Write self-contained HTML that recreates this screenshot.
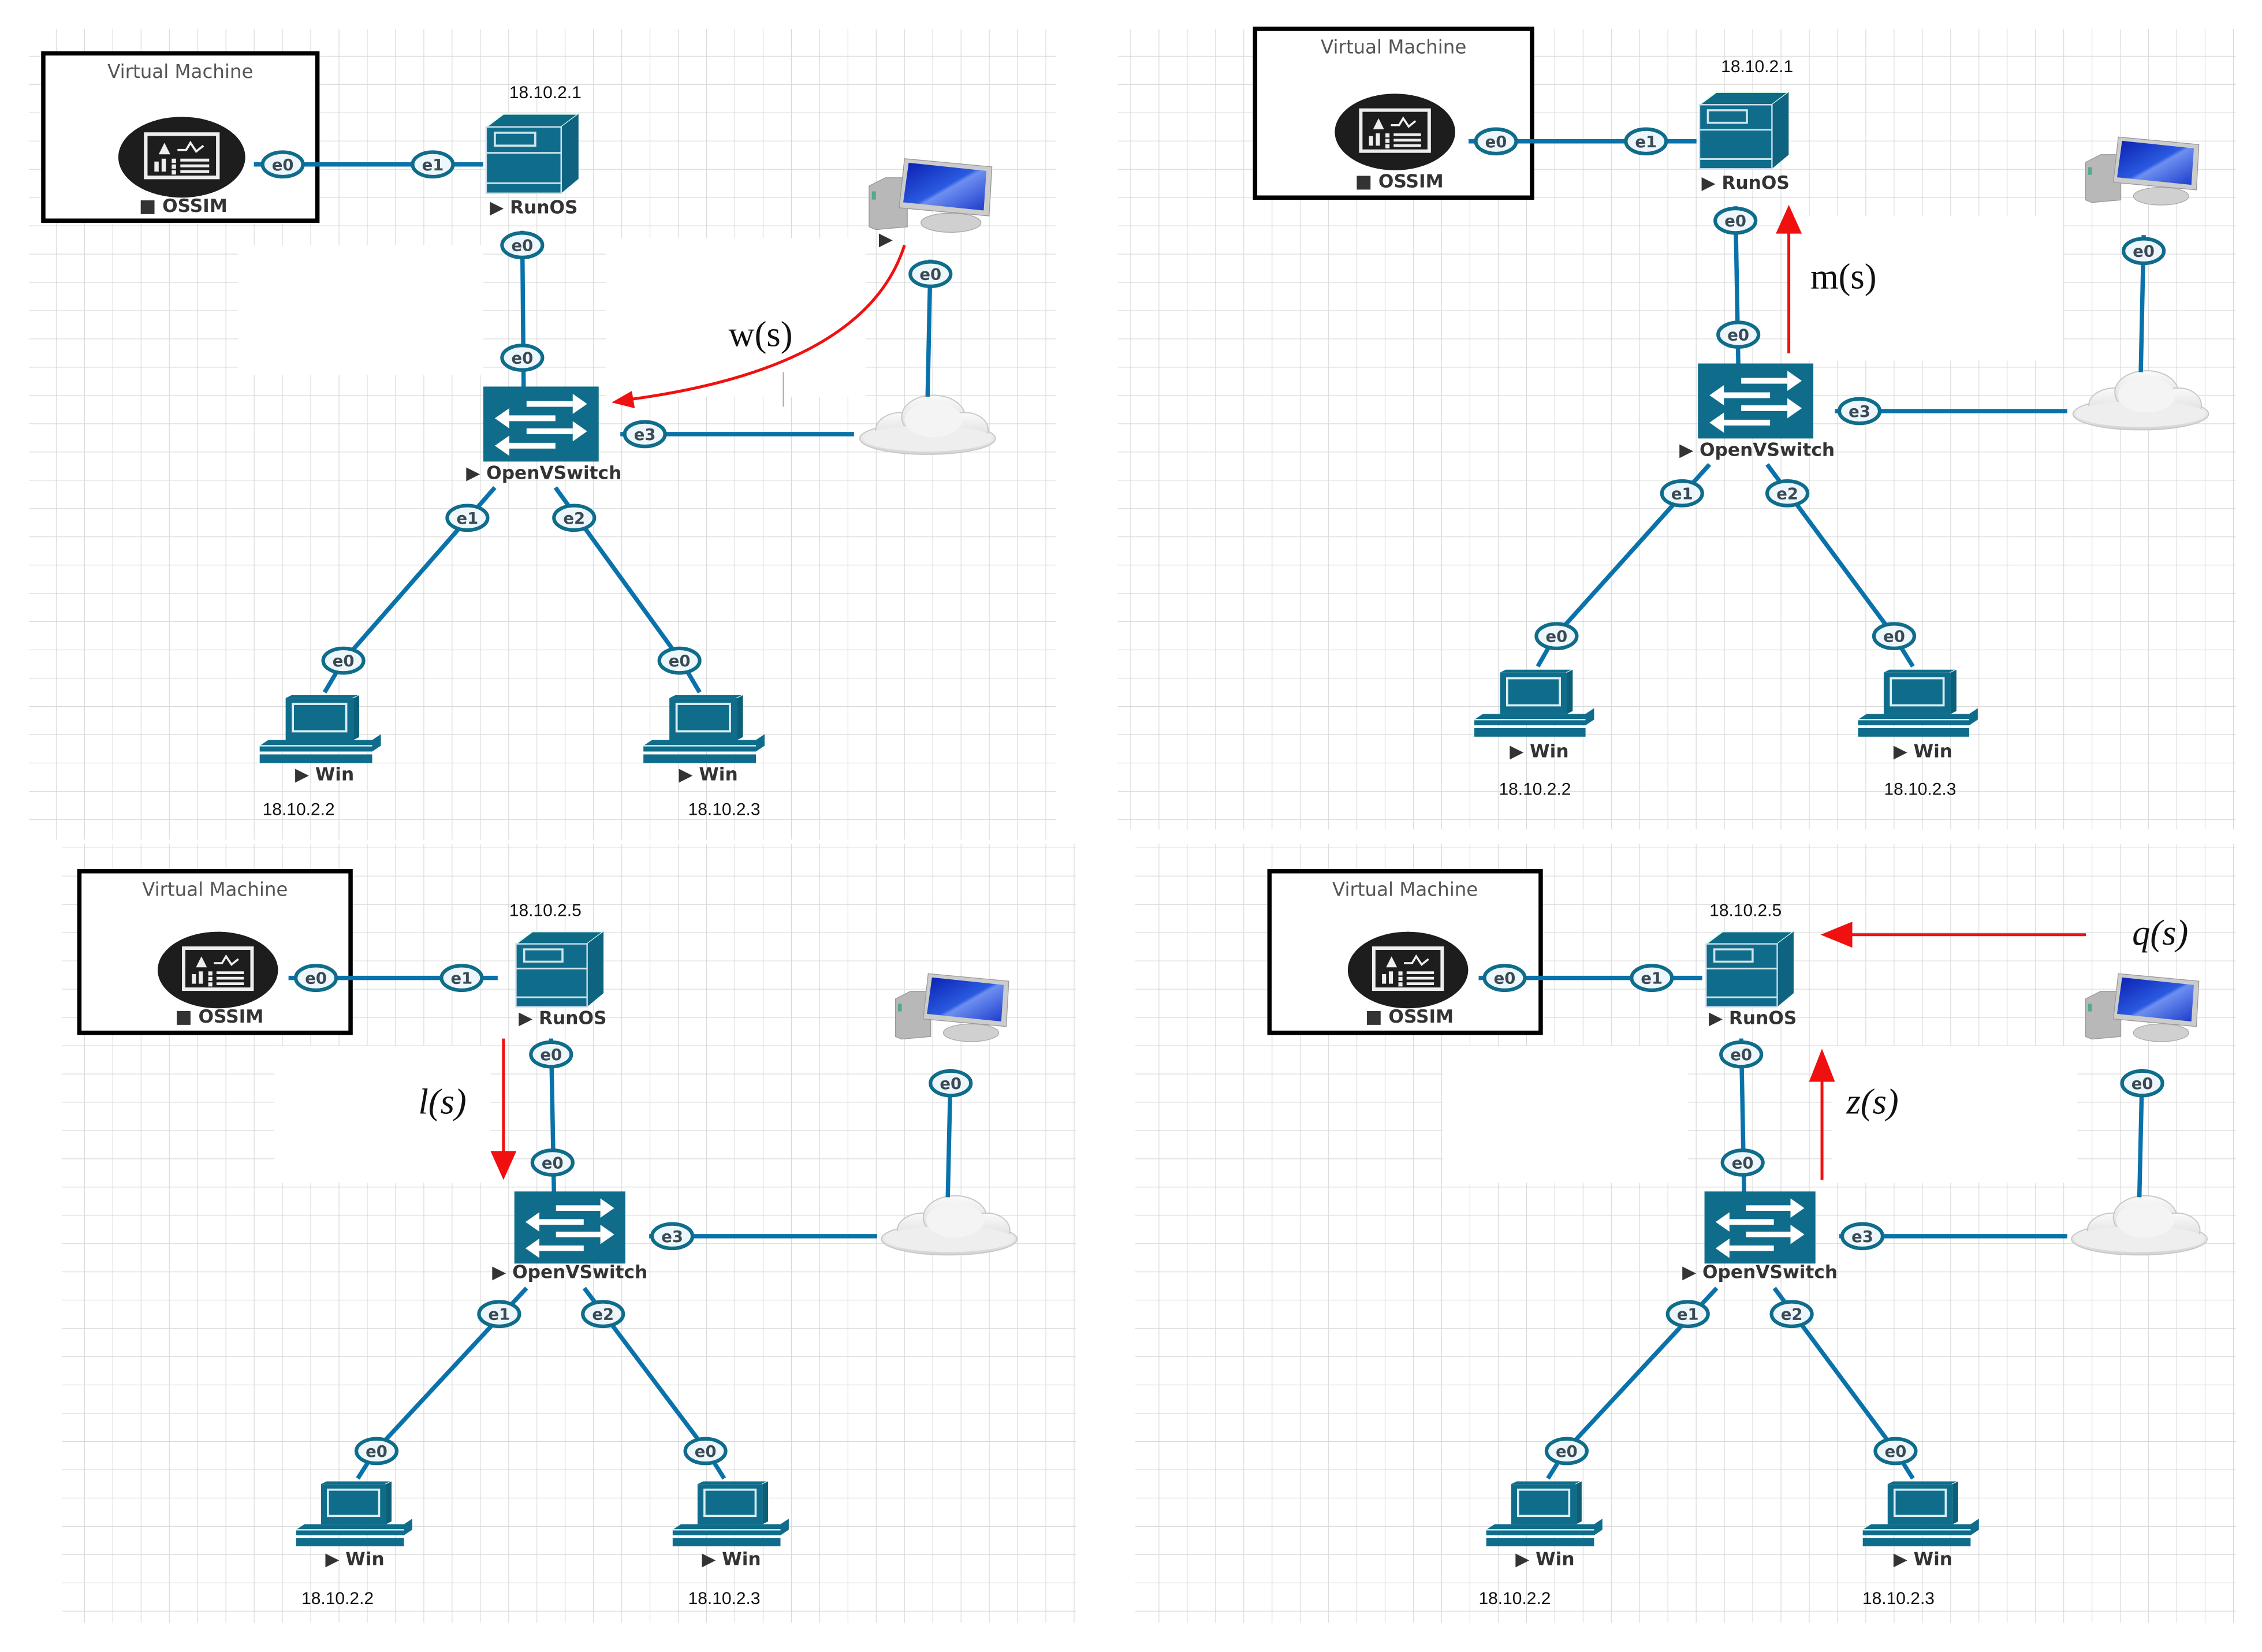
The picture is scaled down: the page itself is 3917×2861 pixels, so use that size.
<!DOCTYPE html>
<html><head><meta charset="utf-8"><style>
html,body{margin:0;padding:0;background:#fff;}
svg{display:block;}
.ip{font-family:"Liberation Sans",sans-serif;font-size:12px;fill:#111;text-anchor:middle;}
.lb{font-family:"DejaVu Sans","Liberation Sans",sans-serif;font-size:12.5px;fill:#333;text-anchor:middle;font-weight:bold;}
.vm{font-family:"DejaVu Sans","Liberation Sans",sans-serif;font-size:13px;fill:#555;text-anchor:middle;}
.ifl{font-family:"DejaVu Sans","Liberation Sans",sans-serif;font-size:11px;font-weight:bold;fill:#3a4a55;text-anchor:middle;}
.ln{stroke:#0a72aa;stroke-width:3;fill:none;}
.red{stroke:#f01010;stroke-width:2;fill:none;}
.mt{font-family:"Liberation Serif",serif;font-size:25px;fill:#111;}
.mi{font-family:"Liberation Serif",serif;font-size:25px;font-style:italic;fill:#111;}
</style></head><body>
<svg width="3917" height="2861" viewBox="0 0 1568 1145.3" xmlns="http://www.w3.org/2000/svg">
<defs>
<pattern id="g" width="19.6" height="19.6" patternUnits="userSpaceOnUse">
<path d="M19.6 0V19.6H0" fill="none" stroke="#d8d8d8" stroke-width="0.9"/>
</pattern>
<symbol id="srv" viewBox="0 0 64 58" overflow="visible">
<polygon points="0,12 12,3 64,3 52,12" fill="#0f6a86" stroke="#dfe" stroke-width="1"/>
<polygon points="52,12 64,3 64,48 52,58" fill="#0e6480"/>
<rect x="0" y="12" width="52" height="46" fill="#0f6d8b" stroke="#cde" stroke-width="1"/>
<rect x="6" y="16" width="28" height="9" fill="none" stroke="#cfe4ea" stroke-width="1.5"/>
<line x1="0" y1="30" x2="52" y2="30" stroke="#cfe4ea" stroke-width="1.2"/>
<line x1="0" y1="51" x2="52" y2="51" stroke="#cfe4ea" stroke-width="1.2"/>
</symbol>
<symbol id="sw" viewBox="0 0 80 52" overflow="visible">
<rect width="80" height="52" fill="#0f6d8b"/>
<g fill="#fff" stroke="#fff" stroke-width="4">
<line x1="30" y1="12" x2="62" y2="12"/><line x1="18" y1="22" x2="50" y2="22"/>
<line x1="30" y1="31" x2="62" y2="31"/><line x1="18" y1="41" x2="50" y2="41"/>
</g>
<g fill="#fff"><polygon points="62,5 72,12 62,19"/><polygon points="18,15 8,22 18,29"/>
<polygon points="62,24 72,31 62,38"/><polygon points="18,34 8,41 18,48"/></g>
</symbol>
<symbol id="pc" viewBox="0 0 85 48" overflow="visible">
<polygon points="18,2 22,0 68,0 64,2" fill="#0f6d8b"/>
<rect x="18" y="2" width="47" height="29" fill="#0f6d8b"/>
<rect x="23" y="6" width="37" height="19" fill="#0f6d8b" stroke="#d8eef4" stroke-width="1.5"/>
<polygon points="65,2 69,0 69,29 65,31" fill="#0c5f78"/>
<polygon points="6,31 78,31 84,27 84,35 78,39 0,39 0,35" fill="#0f6d8b"/>
<line x1="0" y1="35" x2="78" y2="35" stroke="#d8eef4" stroke-width="1"/>
<rect x="0" y="41" width="78" height="6" fill="#0f6d8b"/>
</symbol>
<linearGradient id="cg" x1="0" y1="0" x2="0" y2="1"><stop offset="0" stop-color="#fafafa"/><stop offset="1" stop-color="#d4d4d4"/></linearGradient>
<symbol id="cl" viewBox="0 0 96 42" overflow="visible">
<g fill="url(#cg)" stroke="#c8c8c8" stroke-width="0.8">
<ellipse cx="48" cy="30" rx="47" ry="11"/>
<ellipse cx="30" cy="24" rx="18" ry="12"/>
<ellipse cx="52" cy="15" rx="22" ry="15"/>
<ellipse cx="74" cy="24" rx="16" ry="12"/>
</g>
<ellipse cx="48" cy="30" rx="45" ry="9" fill="#eee"/>
<ellipse cx="52" cy="17" rx="20" ry="12" fill="#f4f4f4"/>
</symbol>
<linearGradient id="bl" x1="0" y1="0" x2="1" y2="1"><stop offset="0" stop-color="#0a1fb0"/><stop offset="0.5" stop-color="#2a5ae0"/><stop offset="0.55" stop-color="#6d8ff0"/><stop offset="1" stop-color="#1a3acb"/></linearGradient>
<symbol id="mon" viewBox="0 0 90 55" overflow="visible">
<polygon points="0,20 12,14 28,14 28,50 5,52 0,50" fill="#b8b8b8" stroke="#999" stroke-width="0.6"/>
<rect x="2" y="24" width="3" height="6" fill="#5a8"/>
<ellipse cx="60" cy="47" rx="22" ry="7" fill="#d0d0d0" stroke="#aaa" stroke-width="0.6"/>
<polygon points="26,0 90,6 88,42 22,36" fill="#ccc" stroke="#999" stroke-width="0.6"/>
<polygon points="29,3 86,9 84,38 25,32" fill="url(#bl)"/>
</symbol>
<symbol id="os" viewBox="0 0 90 58" overflow="visible">
<ellipse cx="45" cy="29" rx="44" ry="28" fill="#1d1d1d"/>
<rect x="20" y="13" width="50" height="30" fill="none" stroke="#eee" stroke-width="2.5"/>
<polygon points="29,27 33,19 37,27" fill="#eee"/>
<polyline points="42,24 48,24 51,19 55,25 60,21" fill="none" stroke="#eee" stroke-width="1.5"/>
<rect x="26" y="32" width="3" height="7" fill="#eee"/><rect x="31" y="30" width="3" height="9" fill="#eee"/>
<g stroke="#eee" stroke-width="2"><line x1="44" y1="31" x2="64" y2="31"/><line x1="44" y1="35" x2="64" y2="35"/><line x1="44" y1="39" x2="64" y2="39"/></g>
<rect x="38" y="30" width="3" height="3" fill="#eee"/><rect x="38" y="34" width="3" height="3" fill="#eee"/><rect x="38" y="38" width="3" height="3" fill="#eee"/>
</symbol>
<symbol id="if" viewBox="-15 -9 30 18" overflow="visible">
<ellipse cx="0" cy="0" rx="14" ry="8.5" fill="#edf6fa" stroke="#0f6c8a" stroke-width="2.5"/>
</symbol>
</defs>

<rect width="1568" height="1146" fill="#fff"/>
<rect x="20" y="20" width="712" height="562" fill="url(#g)"/>
<rect x="775" y="20" width="775" height="555" fill="url(#g)"/>
<rect x="43" y="585" width="703" height="540" fill="url(#g)"/>
<rect x="787" y="585" width="763" height="540" fill="url(#g)"/>
<rect x="165" y="170" width="170" height="90" fill="#fff"/>
<rect x="420" y="165" width="180" height="110" fill="#fff"/>
<rect x="1240" y="150" width="190" height="100" fill="#fff"/>
<rect x="190" y="725" width="150" height="95" fill="#fff"/>
<rect x="1000" y="725" width="170" height="95" fill="#fff"/>
<rect x="1270" y="725" width="170" height="95" fill="#fff"/>

<g>
<rect x="30" y="37" width="190" height="116" fill="#fff" stroke="#000" stroke-width="3"/>
<text x="125" y="54" class="vm">Virtual Machine</text>
<use href="#os" x="81" y="80" width="90" height="58"/>
<text x="127" y="147" class="lb">■ OSSIM</text>
<line x1="176" y1="114" x2="335" y2="114" class="ln"/>
<use href="#if" x="181" y="105" width="30" height="18"/><text x="196" y="118" class="ifl">e0</text>
<use href="#if" x="285" y="105" width="30" height="18"/><text x="300" y="118" class="ifl">e1</text>
<use href="#srv" x="337" y="76" width="64" height="58"/>
<text x="378" y="68" class="ip">18.10.2.1</text>
<text x="370" y="148" class="lb">▶ RunOS</text>
<line x1="362" y1="160" x2="363" y2="270" class="ln"/>
<use href="#if" x="347" y="161" width="30" height="18"/><text x="362" y="174" class="ifl">e0</text>
<use href="#if" x="347" y="239" width="30" height="18"/><text x="362" y="252" class="ifl">e0</text>
<use href="#sw" x="335" y="268" width="80" height="52"/>
<text x="377" y="332" class="lb">▶ OpenVSwitch</text>
<line x1="430" y1="301" x2="592" y2="301" class="ln"/>
<use href="#if" x="432" y="292" width="30" height="18"/><text x="447" y="305" class="ifl">e3</text>
<use href="#cl" x="595" y="274" width="96" height="42"/>
<use href="#mon" x="600" y="110" width="90" height="52"/>
<text x="614" y="170" class="lb">▶</text>
<line x1="645" y1="180" x2="643" y2="275" class="ln"/>
<use href="#if" x="630" y="181" width="30" height="18"/><text x="645" y="194" class="ifl">e0</text>
<line x1="343" y1="338" x2="238" y2="458" class="ln"/>
<line x1="385" y1="338" x2="472" y2="458" class="ln"/>
<line x1="238" y1="458" x2="225" y2="480" class="ln"/>
<line x1="472" y1="458" x2="485" y2="480" class="ln"/>
<use href="#if" x="309" y="350" width="30" height="18"/><text x="324" y="363" class="ifl">e1</text>
<use href="#if" x="383" y="350" width="30" height="18"/><text x="398" y="363" class="ifl">e2</text>
<use href="#if" x="223" y="449" width="30" height="18"/><text x="238" y="462" class="ifl">e0</text>
<use href="#if" x="456" y="449" width="30" height="18"/><text x="471" y="462" class="ifl">e0</text>
<use href="#pc" x="180" y="482" width="85" height="48"/>
<use href="#pc" x="446" y="482" width="85" height="48"/>
<text x="225" y="541" class="lb">▶ Win</text>
<text x="491" y="541" class="lb">▶ Win</text>
<text x="207" y="565" class="ip">18.10.2.2</text>
<text x="502" y="565" class="ip">18.10.2.3</text>
<path d="M627 170 Q600 255 436 277" class="red"/>
<polygon points="424,279 438,271 440,283" fill="#f01010"/>
<line x1="543" y1="258" x2="543" y2="282" stroke="#aaa" stroke-width="0.8"/>
<text x="505" y="240" class="mt">w(s)</text>
</g>

<g>
<rect x="870" y="20" width="192" height="117" fill="#fff" stroke="#000" stroke-width="3"/>
<text x="966" y="37" class="vm">Virtual Machine</text>
<use href="#os" x="922" y="64" width="90" height="55"/>
<text x="970" y="130" class="lb">■ OSSIM</text>
<line x1="1018" y1="98" x2="1176" y2="98" class="ln"/>
<use href="#if" x="1022" y="89" width="30" height="18"/><text x="1037" y="102" class="ifl">e0</text>
<use href="#if" x="1126" y="89" width="30" height="18"/><text x="1141" y="102" class="ifl">e1</text>
<use href="#srv" x="1178" y="61" width="62" height="56"/>
<text x="1218" y="50" class="ip">18.10.2.1</text>
<text x="1210" y="131" class="lb">▶ RunOS</text>
<line x1="1203" y1="143" x2="1205" y2="254" class="ln"/>
<use href="#if" x="1188" y="144" width="30" height="18"/><text x="1203" y="157" class="ifl">e0</text>
<use href="#if" x="1190" y="223" width="30" height="18"/><text x="1205" y="236" class="ifl">e0</text>
<use href="#sw" x="1177" y="252" width="80" height="52"/>
<text x="1218" y="316" class="lb">▶ OpenVSwitch</text>
<line x1="1272" y1="285" x2="1433" y2="285" class="ln"/>
<use href="#if" x="1274" y="276" width="30" height="18"/><text x="1289" y="289" class="ifl">e3</text>
<use href="#cl" x="1436" y="257" width="96" height="42"/>
<use href="#mon" x="1440" y="95" width="90" height="48"/>
<line x1="1486" y1="163" x2="1484" y2="258" class="ln"/>
<use href="#if" x="1471" y="165" width="30" height="18"/><text x="1486" y="178" class="ifl">e0</text>
<line x1="1185" y1="322" x2="1078" y2="441" class="ln"/>
<line x1="1225" y1="322" x2="1313" y2="441" class="ln"/>
<line x1="1078" y1="441" x2="1066" y2="462" class="ln"/>
<line x1="1313" y1="441" x2="1326" y2="462" class="ln"/>
<use href="#if" x="1151" y="333" width="30" height="18"/><text x="1166" y="346" class="ifl">e1</text>
<use href="#if" x="1224" y="333" width="30" height="18"/><text x="1239" y="346" class="ifl">e2</text>
<use href="#if" x="1064" y="432" width="30" height="18"/><text x="1079" y="445" class="ifl">e0</text>
<use href="#if" x="1298" y="432" width="30" height="18"/><text x="1313" y="445" class="ifl">e0</text>
<use href="#pc" x="1022" y="464" width="84" height="48"/>
<use href="#pc" x="1288" y="464" width="84" height="48"/>
<text x="1067" y="525" class="lb">▶ Win</text>
<text x="1333" y="525" class="lb">▶ Win</text>
<text x="1064" y="551" class="ip">18.10.2.2</text>
<text x="1331" y="551" class="ip">18.10.2.3</text>
<line x1="1240" y1="245" x2="1240" y2="158" class="red"/>
<polygon points="1240,142 1231,162 1249,162" fill="#f01010"/>
<text x="1255" y="200" class="mt">m(s)</text>
</g>

<g>
<rect x="55" y="604" width="188" height="112" fill="#fff" stroke="#000" stroke-width="3"/>
<text x="149" y="621" class="vm">Virtual Machine</text>
<use href="#os" x="106" y="645" width="90" height="55"/>
<text x="152" y="709" class="lb">■ OSSIM</text>
<line x1="200" y1="678" x2="345" y2="678" class="ln"/>
<use href="#if" x="204" y="669" width="30" height="18"/><text x="219" y="682" class="ifl">e0</text>
<use href="#if" x="305" y="669" width="30" height="18"/><text x="320" y="682" class="ifl">e1</text>
<use href="#srv" x="357" y="643" width="62" height="55"/>
<text x="378" y="635" class="ip">18.10.2.5</text>
<text x="390" y="710" class="lb">▶ RunOS</text>
<line x1="382" y1="720" x2="384" y2="827" class="ln"/>
<use href="#if" x="367" y="722" width="30" height="18"/><text x="382" y="735" class="ifl">e0</text>
<use href="#if" x="368" y="797" width="30" height="18"/><text x="383" y="810" class="ifl">e0</text>
<use href="#sw" x="355" y="826" width="80" height="50"/>
<text x="395" y="886" class="lb">▶ OpenVSwitch</text>
<line x1="450" y1="857" x2="608" y2="857" class="ln"/>
<use href="#if" x="451" y="848" width="30" height="18"/><text x="466" y="861" class="ifl">e3</text>
<use href="#cl" x="610" y="829" width="96" height="42"/>
<use href="#mon" x="615" y="675" width="90" height="48"/>
<line x1="659" y1="741" x2="657" y2="830" class="ln"/>
<use href="#if" x="644" y="742" width="30" height="18"/><text x="659" y="755" class="ifl">e0</text>
<line x1="365" y1="893" x2="260" y2="1006" class="ln"/>
<line x1="405" y1="893" x2="490" y2="1006" class="ln"/>
<line x1="260" y1="1006" x2="248" y2="1025" class="ln"/>
<line x1="490" y1="1006" x2="502" y2="1025" class="ln"/>
<use href="#if" x="331" y="902" width="30" height="18"/><text x="346" y="915" class="ifl">e1</text>
<use href="#if" x="403" y="902" width="30" height="18"/><text x="418" y="915" class="ifl">e2</text>
<use href="#if" x="246" y="997" width="30" height="18"/><text x="261" y="1010" class="ifl">e0</text>
<use href="#if" x="474" y="997" width="30" height="18"/><text x="489" y="1010" class="ifl">e0</text>
<use href="#pc" x="204" y="1027" width="84" height="46"/>
<use href="#pc" x="465" y="1027" width="84" height="46"/>
<text x="246" y="1085" class="lb">▶ Win</text>
<text x="507" y="1085" class="lb">▶ Win</text>
<text x="234" y="1112" class="ip">18.10.2.2</text>
<text x="502" y="1112" class="ip">18.10.2.3</text>
<line x1="349" y1="720" x2="349" y2="802" class="red"/>
<polygon points="349,818 340,798 358,798" fill="#f01010"/>
<text x="290" y="772" class="mi">l(s)</text>
</g>

<g>
<rect x="880" y="604" width="188" height="112" fill="#fff" stroke="#000" stroke-width="3"/>
<text x="974" y="621" class="vm">Virtual Machine</text>
<use href="#os" x="931" y="645" width="90" height="55"/>
<text x="977" y="709" class="lb">■ OSSIM</text>
<line x1="1025" y1="678" x2="1180" y2="678" class="ln"/>
<use href="#if" x="1028" y="669" width="30" height="18"/><text x="1043" y="682" class="ifl">e0</text>
<use href="#if" x="1130" y="669" width="30" height="18"/><text x="1145" y="682" class="ifl">e1</text>
<use href="#srv" x="1182" y="643" width="62" height="55"/>
<text x="1210" y="635" class="ip">18.10.2.5</text>
<text x="1215" y="710" class="lb">▶ RunOS</text>
<line x1="1207" y1="720" x2="1209" y2="827" class="ln"/>
<use href="#if" x="1192" y="722" width="30" height="18"/><text x="1207" y="735" class="ifl">e0</text>
<use href="#if" x="1193" y="797" width="30" height="18"/><text x="1208" y="810" class="ifl">e0</text>
<use href="#sw" x="1180" y="826" width="80" height="50"/>
<text x="1220" y="886" class="lb">▶ OpenVSwitch</text>
<line x1="1275" y1="857" x2="1433" y2="857" class="ln"/>
<use href="#if" x="1276" y="848" width="30" height="18"/><text x="1291" y="861" class="ifl">e3</text>
<use href="#cl" x="1435" y="829" width="96" height="42"/>
<use href="#mon" x="1440" y="675" width="90" height="48"/>
<line x1="1485" y1="741" x2="1483" y2="830" class="ln"/>
<use href="#if" x="1470" y="742" width="30" height="18"/><text x="1485" y="755" class="ifl">e0</text>
<line x1="1190" y1="893" x2="1085" y2="1006" class="ln"/>
<line x1="1230" y1="893" x2="1314" y2="1006" class="ln"/>
<line x1="1085" y1="1006" x2="1073" y2="1025" class="ln"/>
<line x1="1314" y1="1006" x2="1326" y2="1025" class="ln"/>
<use href="#if" x="1155" y="902" width="30" height="18"/><text x="1170" y="915" class="ifl">e1</text>
<use href="#if" x="1227" y="902" width="30" height="18"/><text x="1242" y="915" class="ifl">e2</text>
<use href="#if" x="1071" y="997" width="30" height="18"/><text x="1086" y="1010" class="ifl">e0</text>
<use href="#if" x="1299" y="997" width="30" height="18"/><text x="1314" y="1010" class="ifl">e0</text>
<use href="#pc" x="1029" y="1027" width="84" height="46"/>
<use href="#pc" x="1290" y="1027" width="84" height="46"/>
<text x="1071" y="1085" class="lb">▶ Win</text>
<text x="1333" y="1085" class="lb">▶ Win</text>
<text x="1050" y="1112" class="ip">18.10.2.2</text>
<text x="1316" y="1112" class="ip">18.10.2.3</text>
<line x1="1446" y1="648" x2="1280" y2="648" class="red"/>
<polygon points="1262,648 1284,639 1284,657" fill="#f01010"/>
<line x1="1263" y1="818" x2="1263" y2="745" class="red"/>
<polygon points="1263,727 1254,750 1272,750" fill="#f01010"/>
<text x="1478" y="655" class="mi">q(s)</text>
<text x="1280" y="772" class="mi">z(s)</text>
</g>
</svg>
</body></html>
